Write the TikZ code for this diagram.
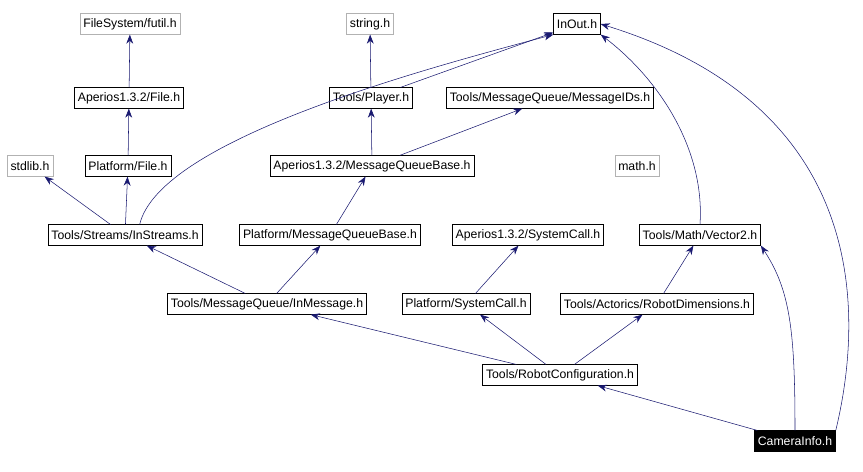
\documentclass[tikz,border=0pt]{standalone}
\usepackage{fontspec}
\setmainfont{Liberation Sans}
\usetikzlibrary{arrows.meta}
\definecolor{edgeblue}{HTML}{191970}
\begin{document}
\begin{tikzpicture}[
    x=0.75pt, y=-0.75pt,
    >={Stealth[length=2.4mm, width=1.8mm]},
    file/.style={draw, rectangle, inner xsep=2.5pt, minimum height=15.5pt, font=\fontsize{9.2}{11}\selectfont},
    sys/.style={file, draw=gray!60},
    edge/.style={->, edgeblue},
    ]
    \useasboundingbox (0,0) rectangle (863,471);

    \node[sys] (futil) at (130,24) {FileSystem/futil.h};
    \node[file] (aperiosfile) at (129,98) {Aperios1.3.2/File.h};
    \node[file] (platformfile) at (128,166) {Platform/File.h};
    \node[sys] (stdlib) at (30,166) {stdlib.h};
    \node[file] (instreams) at (125,235) {Tools/Streams/InStreams.h};
    \node[sys] (string) at (370,24) {string.h};
    \node[file] (inout) at (577,24) {InOut.h};
    \node[file] (player) at (371,98) {Tools/Player.h};
    \node[file] (msgids) at (550,98) {Tools/MessageQueue/MessageIDs.h};
    \node[file] (aperiosmqb) at (372,166) {Aperios1.3.2/MessageQueueBase.h};
    \node[sys] (math) at (637,166) {math.h};
    \node[file] (platformmqb) at (330,235) {Platform/MessageQueueBase.h};
    \node[file] (aperiossys) at (528,235) {Aperios1.3.2/SystemCall.h};
    \node[file] (vector) at (700,235) {Tools/Math/Vector2.h};
    \node[file] (inmessage) at (267,304) {Tools/MessageQueue/InMessage.h};
    \node[file] (platformsys) at (466,304) {Platform/SystemCall.h};
    \node[file] (robotdim) at (657,304) {Tools/Actorics/RobotDimensions.h};
    \node[file] (robotconf) at (560,375) {Tools/RobotConfiguration.h};
    \node[file, fill=black, text=white] (camera) at (795,441) {CameraInfo.h};

    \draw[edge] (aperiosfile) -- (futil);
    \draw[edge] (platformfile) -- (aperiosfile);
    \draw[edge] (instreams) -- (stdlib);
    \draw[edge] (instreams) -- (platformfile);
    \draw[edge] ([xshift=11pt]instreams.north) .. controls (160,140) and (420,70) .. (inout.south west);
    \draw[edge] (player) -- (string);
    \draw[edge] (player) -- (inout);
    \draw[edge] (aperiosmqb) -- (player);
    \draw[edge] (aperiosmqb) -- (msgids);
    \draw[edge] (platformmqb) -- (aperiosmqb);
    \draw[edge] (inmessage) -- (instreams);
    \draw[edge] (inmessage) -- (platformmqb);
    \draw[edge] (platformsys) -- (aperiossys);
    \draw[edge] (vector.north) .. controls (705,150) and (660,80) .. (inout.south east);
    \draw[edge] (robotdim) -- (vector);
    \draw[edge] (robotconf) -- (inmessage);
    \draw[edge] (robotconf) -- (platformsys);
    \draw[edge] (robotconf) -- (robotdim);
    \draw[edge] (camera) -- (robotconf);
    \draw[edge] (camera.north) .. controls (795,330) and (790,290) .. (vector.south east);
    \draw[edge] (camera.north east) .. controls (860,330) and (880,110) .. (inout.east);
\end{tikzpicture}
\end{document}
